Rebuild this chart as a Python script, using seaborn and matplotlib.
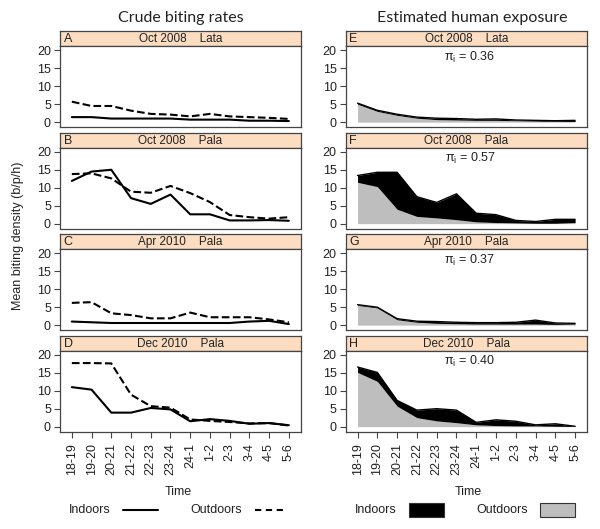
import matplotlib
matplotlib.use('Agg')
import matplotlib.pyplot as plt
import seaborn as sns
import pandas as pd
from matplotlib.lines import Line2D
from matplotlib.patches import Rectangle

# Hour-of-night categories
hours = ['18-19', '19-20', '20-21', '21-22', '22-23', '23-24',
         '24-1', '1-2', '2-3', '3-4', '4-5', '5-6']

# Crude biting rates (left column)
A_in = [1.4, 1.4, 1.0, 1.0, 1.0, 1.0, 0.7, 0.7, 0.7, 0.4, 0.4, 0.3]
A_out = [5.7, 4.5, 4.5, 3.2, 2.3, 2.1, 1.6, 2.3, 1.6, 1.4, 1.2, 0.9]
B_in = [11.9, 14.5, 15.0, 7.1, 5.5, 8.1, 2.6, 2.6, 0.9, 0.9, 1.0, 0.8]
B_out = [13.8, 14.0, 12.6, 8.9, 8.6, 10.5, 8.5, 6.0, 2.4, 1.8, 1.4, 1.8]
C_in = [1.0, 0.8, 0.6, 0.6, 0.6, 0.6, 0.6, 0.6, 0.6, 1.0, 1.2, 0.3]
C_out = [6.2, 6.4, 3.3, 2.8, 1.9, 1.9, 3.5, 2.2, 2.2, 2.2, 1.6, 0.8]
D_in = [11.0, 10.3, 3.9, 3.9, 5.2, 4.8, 1.5, 2.1, 1.6, 0.8, 1.0, 0.4]
D_out = [17.7, 17.7, 17.6, 8.9, 5.7, 5.3, 2.0, 1.6, 1.3, 0.9, 1.0, 0.3]

# Estimated human exposure (right column), outdoor part and indoor part
E_out = [5.0, 3.0, 1.9, 1.1, 0.7, 0.6, 0.5, 0.5, 0.4, 0.3, 0.2, 0.2]
E_in = [0.3, 0.3, 0.3, 0.3, 0.4, 0.4, 0.3, 0.4, 0.2, 0.2, 0.2, 0.3]
F_out = [11.5, 10.3, 4.0, 2.0, 1.6, 1.1, 0.5, 0.3, 0.2, 0.1, 0.1, 0.3]
F_in = [1.9, 4.0, 10.3, 5.5, 4.3, 7.2, 2.4, 2.2, 0.7, 0.5, 1.1, 0.9]
G_out = [5.5, 4.8, 1.5, 0.8, 0.5, 0.4, 0.3, 0.3, 0.3, 0.3, 0.2, 0.3]
G_in = [0.2, 0.2, 0.3, 0.3, 0.5, 0.4, 0.4, 0.4, 0.5, 1.1, 0.4, 0.2]
H_out = [15.1, 12.6, 5.7, 2.5, 1.6, 1.1, 0.5, 0.3, 0.2, 0.2, 0.1, 0.05]
H_in = [1.5, 2.5, 1.6, 2.1, 3.4, 3.5, 0.7, 1.6, 1.3, 0.3, 0.7, 0.05]

left_letters = ['A', 'B', 'C', 'D']
right_letters = ['E', 'F', 'G', 'H']
panel_titles = ['Oct 2008    Lata', 'Oct 2008    Pala', 'Apr 2010    Pala', 'Dec 2010    Pala']
pi_values = ['0.36', '0.57', '0.37', '0.40']

crude = [(A_in, A_out), (B_in, B_out), (C_in, C_out), (D_in, D_out)]
exposure = [(E_in, E_out), (F_in, F_out), (G_in, G_out), (H_in, H_out)]

sns.set_theme(style='ticks')
plt.rcParams['font.family'] = ['Liberation Sans', 'DejaVu Sans']

strip_col = '#FCDDC2'
edge_col = '#444444'
text_col = '#222222'
fs = 8.5
tfs = 9

W, H = 600, 529
fig = plt.figure(figsize=(6, 5.29), dpi=100)


def box(x0, y0, x1, y1):
    return [x0 / W, 1 - y1 / H, (x1 - x0) / W, (y1 - y0) / H]


row_tops = [31, 132.5, 234, 335.5]
cols = [(60, 300.7), (345.7, 587)]
pos = list(range(len(hours)))

for i, top in enumerate(row_tops):
    for c, (x0, x1) in enumerate(cols):
        # strip
        sax = fig.add_axes(box(x0, top, x1, top + 15))
        sax.set_facecolor(strip_col)
        sax.set_xticks([])
        sax.set_yticks([])
        for s in sax.spines.values():
            s.set_color(edge_col)
            s.set_linewidth(0.9)
        letter = left_letters[i] if c == 0 else right_letters[i]
        sax.text(0.015, 0.45, letter, ha='left', va='center', fontsize=fs + 0.5, color=text_col)
        sax.text(0.5, 0.45, panel_titles[i], ha='center', va='center', fontsize=fs, color=text_col)

        # plot area
        ax = fig.add_axes(box(x0, top + 15, x1, top + 96))
        if c == 0:
            ind, outd = crude[i]
            df = pd.DataFrame({'pos': pos, 'Indoors': ind, 'Outdoors': outd})
            sns.lineplot(data=df, x='pos', y='Outdoors', ax=ax, color='black',
                         lw=1.5, dashes=(3, 2.2), linestyle='--')
            sns.lineplot(data=df, x='pos', y='Indoors', ax=ax, color='black', lw=1.5)
        else:
            ind, outd = exposure[i]
            total = [a + b for a, b in zip(ind, outd)]
            ax.fill_between(pos, 0, outd, color='#BEBEBE', lw=0)
            ax.fill_between(pos, outd, total, color='black', lw=0)
            sns.lineplot(x=pos, y=total, ax=ax, color='black', lw=1.0)
            ax.text(0.515, 0.86, '\u03c0$_\\mathregular{i}$ = ' + pi_values[i],
                    transform=ax.transAxes, ha='center', va='center',
                    fontsize=tfs, color=text_col)

        ax.set_xlim(-0.6, 11.6)
        ax.set_ylim(-1.35, 21.2)
        ax.set_yticks([0, 5, 10, 15, 20])
        ax.set_xlabel('')
        ax.set_ylabel('')
        ax.set_facecolor('white')
        for s in ax.spines.values():
            s.set_color(edge_col)
            s.set_linewidth(0.9)
        ax.tick_params(axis='y', left=True, direction='out', length=4.5, width=0.8,
                       pad=2, labelsize=tfs, colors=edge_col, labelcolor=text_col)
        if i == 3:
            ax.set_xticks(pos)
            ax.set_xticklabels(hours, rotation=90, fontsize=tfs, color=text_col)
            ax.tick_params(axis='x', bottom=True, direction='out', length=4.5,
                           width=0.8, pad=4, colors=edge_col, labelcolor=text_col)
        else:
            ax.set_xticks([])

# Column titles
fig.text(181 / W, 1 - 18 / H, 'Crude biting rates', ha='center', va='center',
         fontsize=11.5, family='Lato', color=text_col)
fig.text(472 / W, 1 - 18 / H, 'Estimated human exposure', ha='center', va='center',
         fontsize=11.5, family='Lato', color=text_col)

# Shared y label
fig.text(18 / W, 1 - 236 / H, 'Mean biting density (b/p/h)', rotation=90,
         ha='center', va='center', fontsize=tfs, color=text_col)

# x labels
fig.text(178 / W, 1 - 492 / H, 'Time', ha='center', va='center', fontsize=tfs, color=text_col)
fig.text(468 / W, 1 - 492 / H, 'Time', ha='center', va='center', fontsize=tfs, color=text_col)

# Legends (label first, then key)
ly = 1 - 510 / H
fig.text(90 / W, ly, 'Indoors', ha='center', va='center', fontsize=tfs, color=text_col)
fig.add_artist(Line2D([123 / W, 158 / W], [ly, ly], color='black', lw=1.5,
                      transform=fig.transFigure))
fig.text(216 / W, ly, 'Outdoors', ha='center', va='center', fontsize=tfs, color=text_col)
fig.add_artist(Line2D([255 / W, 286 / W], [ly, ly], color='black', lw=1.5,
                      dashes=(3, 2.2), transform=fig.transFigure))

fig.text(376 / W, ly, 'Indoors', ha='center', va='center', fontsize=tfs, color=text_col)
fig.add_artist(Rectangle((409 / W, 1 - 517 / H), 35 / W, 14 / H, facecolor='black',
                         edgecolor='#333333', lw=0.8, transform=fig.transFigure))
fig.text(502 / W, ly, 'Outdoors', ha='center', va='center', fontsize=tfs, color=text_col)
fig.add_artist(Rectangle((540 / W, 1 - 517 / H), 35 / W, 14 / H, facecolor='#BEBEBE',
                         edgecolor='#333333', lw=0.8, transform=fig.transFigure))

fig.savefig('out.png', dpi=100)
